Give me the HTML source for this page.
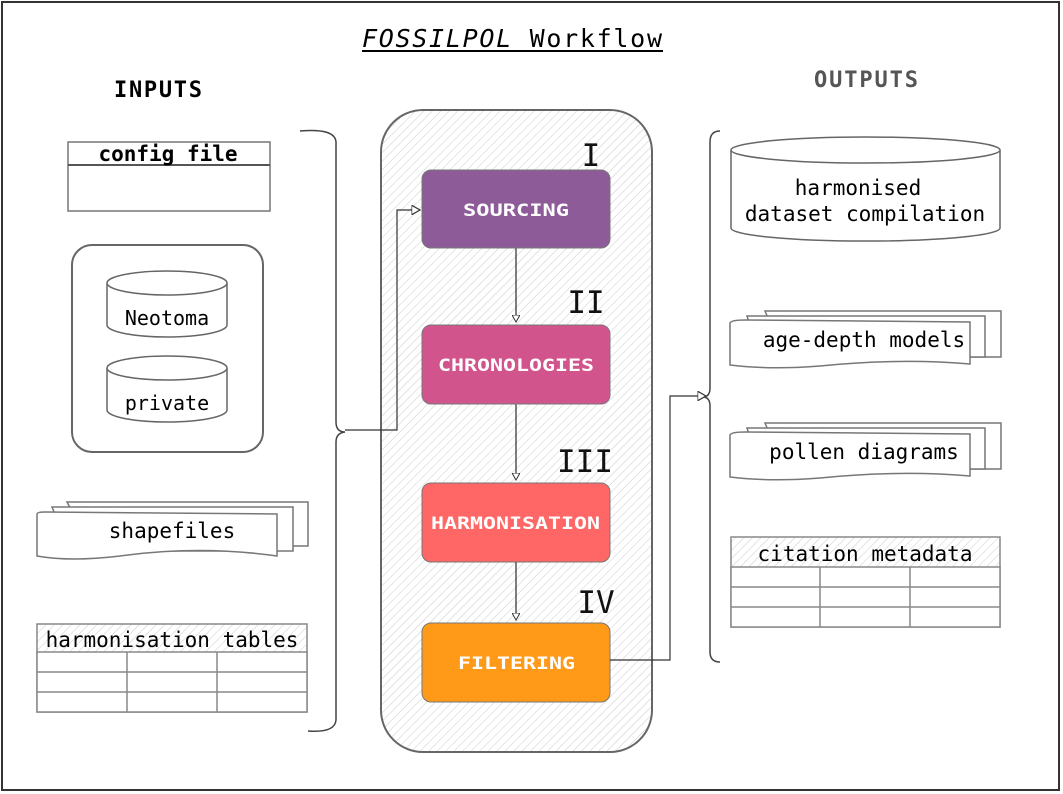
<!DOCTYPE html>
<html><head><meta charset="utf-8"><style>
html,body{margin:0;padding:0;background:#fff}
svg{display:block}
text{font-family:"DejaVu Sans Mono","Liberation Mono",monospace}
</style></head><body>
<svg width="1063" height="794" viewBox="0 0 1063 794" xmlns="http://www.w3.org/2000/svg">
<defs>
<pattern id="h" width="6" height="6" patternUnits="userSpaceOnUse" patternTransform="rotate(45)">
<line x1="0" y1="0" x2="0" y2="6" stroke="#ccc" stroke-width="1"/>
</pattern>
<marker id="a" markerWidth="8" markerHeight="8" refX="7" refY="4" orient="auto"><path d="M0,0 L7,4 L0,8 Z" fill="#fff" stroke="#333"/></marker>
</defs>
<rect x="2" y="2" width="1057" height="788" fill="#fff" stroke="#333" stroke-width="2"/>
<text x="362" y="47" font-size="25" fill="#000" textLength="300"><tspan font-style="italic">FOSSILPOL</tspan> Workflow</text>
<line x1="362" y1="51" x2="663" y2="51" stroke="#000" stroke-width="2"/>
<text x="114" y="97" font-size="22" font-weight="bold" textLength="88">INPUTS</text>
<text x="814" y="87" font-size="22" font-weight="bold" fill="#555" textLength="104">OUTPUTS</text>

<rect x="68" y="142" width="202" height="69" fill="#fff" stroke="#777" stroke-width="1.5"/>
<line x1="68" y1="165" x2="270" y2="165" stroke="#555" stroke-width="2"/>
<text x="168" y="161" font-size="21" font-weight="bold" text-anchor="middle">config file</text>

<rect x="72" y="245" width="191" height="207" rx="20" fill="#fff" stroke="#666" stroke-width="2"/>
<g stroke="#666" stroke-width="1.5" fill="#fff">
<path d="M107,283 v42 a60,12 0 0 0 120,0 v-42"/><ellipse cx="167" cy="283" rx="60" ry="12"/>
<path d="M107,368 v42 a60,12 0 0 0 120,0 v-42"/><ellipse cx="167" cy="368" rx="60" ry="12"/>
</g>
<text x="167" y="325" font-size="20" text-anchor="middle">Neotoma</text>
<text x="167" y="410" font-size="20" text-anchor="middle">private</text>

<g stroke="#777" stroke-width="1.5" fill="#fff">
<path d="M67,502 L308,502 L308,546 L90,546 Z"/>
<path d="M52,507 L293,507 L293,551 L70,551 Z"/>
<path d="M37,514 Q37,512 45,512 L277,514 L277,556 Q200,545 120,556 Q70,562 37,556 Z"/>
</g>
<text x="172" y="538" font-size="21" text-anchor="middle">shapefiles</text>

<g stroke="#888" stroke-width="1.5" fill="none">
<rect x="37" y="624" width="270" height="88" fill="url(#h)"/>
<rect x="37" y="652" width="270" height="60" fill="#fff"/>
<line x1="37" y1="672" x2="307" y2="672"/><line x1="37" y1="692" x2="307" y2="692"/>
<line x1="127" y1="652" x2="127" y2="712"/><line x1="217" y1="652" x2="217" y2="712"/>
</g>
<text x="172" y="647" font-size="21" text-anchor="middle">harmonisation tables</text>

<path d="M300,131 Q335,128 336,142 L336,422 Q336,432 345,432 Q336,433 336,442 L336,720 Q335,733 308,731" fill="none" stroke="#444" stroke-width="1.5"/>

<rect x="381" y="110" width="271" height="642" rx="42" fill="url(#h)" stroke="#666" stroke-width="2"/>
<path d="M345,430 L397,430 L397,210 L420,210" fill="none" stroke="#333" stroke-width="1.2" marker-end="url(#a)"/>
<g stroke="#000" stroke-width="1">
<line x1="516" y1="248" x2="516" y2="322" marker-end="url(#a)"/>
<line x1="516" y1="404" x2="516" y2="480" marker-end="url(#a)"/>
<line x1="516" y1="562" x2="516" y2="620" marker-end="url(#a)"/>
</g>
<rect x="422" y="170" width="188" height="78" rx="9" fill="#8e5b99" stroke="#777"/>
<rect x="422" y="325" width="188" height="79" rx="9" fill="#d1558c" stroke="#777"/>
<rect x="422" y="483" width="188" height="79" rx="9" fill="#ff6666" stroke="#777"/>
<rect x="422" y="623" width="188" height="79" rx="9" fill="#ff9a18" stroke="#777"/>
<g font-size="17" font-weight="bold" fill="#fff" style="font-family:'DejaVu Sans','Liberation Sans',sans-serif">
<text x="463" y="216" textLength="106" lengthAdjust="spacingAndGlyphs">SOURCING</text>
<text x="438" y="371" textLength="156" lengthAdjust="spacingAndGlyphs">CHRONOLOGIES</text>
<text x="431" y="529" textLength="169" lengthAdjust="spacingAndGlyphs">HARMONISATION</text>
<text x="458" y="669" textLength="117" lengthAdjust="spacingAndGlyphs">FILTERING</text>
</g>
<g font-size="31" text-anchor="middle" fill="#111">
<text x="591" y="166">I</text>
<text x="586" y="313">II</text>
<text x="585" y="472">III</text>
<text x="596" y="613">IV</text>
</g>

<path d="M610,660 L670,660 L670,396 L706,396" fill="none" stroke="#333" stroke-width="1.2" marker-end="url(#a)"/>
<path d="M720,131 Q710,131 710,142 L710,388 Q710,396 704,397 Q710,398 710,406 L710,652 Q710,662 720,662" fill="none" stroke="#444" stroke-width="1.5"/>

<g stroke="#666" stroke-width="1.5" fill="#fff">
<path d="M731,150 v78 a134,13 0 0 0 269,0 v-78"/><ellipse cx="865.5" cy="150" rx="134.5" ry="13"/>
</g>
<text x="858" y="195" font-size="21" text-anchor="middle">harmonised</text>
<text x="865" y="221" font-size="21" text-anchor="middle">dataset compilation</text>

<g stroke="#777" stroke-width="1.5" fill="#fff">
<path d="M765,311 L1001,311 L1001,357 L785,357 Z"/>
<path d="M747,316 L985,316 L985,357 L760,357 Z"/>
<path d="M730,323 Q731,320 745,320 L970,322 L970,364 Q900,358 820,366 Q770,370 730,365 Z"/>
<path d="M765,423 L1001,423 L1001,469 L785,469 Z"/>
<path d="M747,428 L985,428 L985,469 L760,469 Z"/>
<path d="M730,435 Q731,432 745,432 L970,434 L970,476 Q900,470 820,478 Q770,482 730,477 Z"/>
</g>
<text x="864" y="347" font-size="21" text-anchor="middle">age-depth models</text>
<text x="864" y="459" font-size="21" text-anchor="middle">pollen diagrams</text>

<g stroke="#888" stroke-width="1.5" fill="none">
<rect x="731" y="537" width="269" height="90" fill="url(#h)"/>
<rect x="731" y="567" width="269" height="60" fill="#fff"/>
<line x1="731" y1="587" x2="1000" y2="587"/><line x1="731" y1="607" x2="1000" y2="607"/>
<line x1="820" y1="567" x2="820" y2="627"/><line x1="910" y1="567" x2="910" y2="627"/>
</g>
<text x="865" y="561" font-size="21" text-anchor="middle">citation metadata</text>
</svg>
</body></html>
